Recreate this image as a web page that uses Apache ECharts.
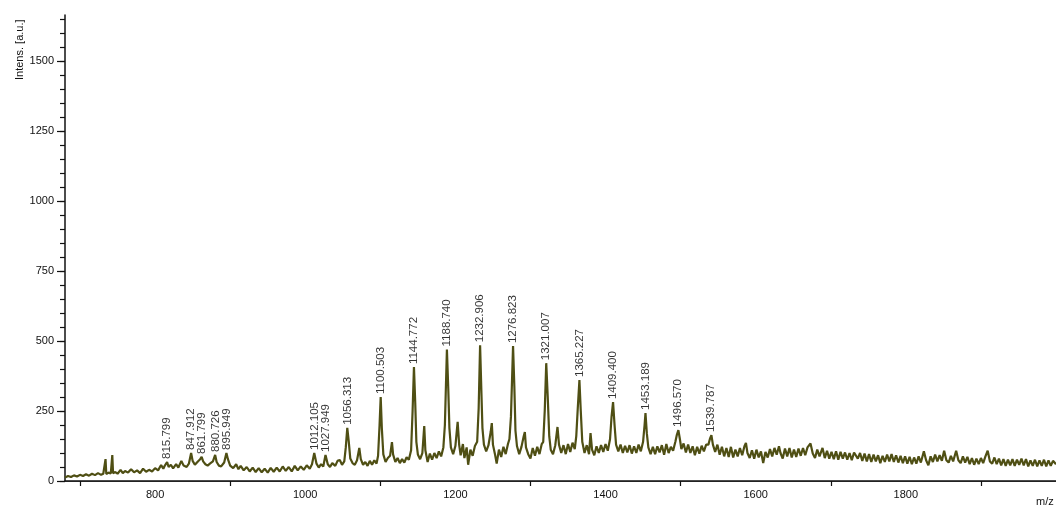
<!DOCTYPE html>
<html lang="en">

<head>
    <meta charset="UTF-8">
    <title>Mass spectrum</title>
    <script src="https://cdn.jsdelivr.net/npm/echarts@6/dist/echarts.min.js"></script>
    <style>
        body {
            margin: 0;
            background: #fff;
        }

        #root {
            width: 1056px;
            height: 507px;
        }
    </style>
</head>

<body>

    <div id="root"></div>
    <script>

        // spectrum, [m/z, intensity]
        var lowMass = [
            [680, 12], [684, 18], [688, 14], [692, 20], [696, 16], [700, 22], [704, 18], [708, 24], [712, 19],
            [716, 26], [720, 21], [724, 28], [728, 22], [731, 26], [733, 24], [734, 78], [735, 25], [738, 30],
            [741, 27], [743, 93], [744, 28], [747, 32], [750, 26], [754, 40], [757, 28], [760, 36], [764, 30],
            [768, 42], [772, 31], [776, 38], [780, 28], [784, 44], [788, 33], [792, 40], [796, 34], [800, 46],
            [804, 38], [808, 57], [811, 44], [813, 55], [816, 68], [818, 50], [821, 58], [824, 45], [828, 60],
            [831, 48], [835, 72], [838, 55], [842, 50], [845, 62], [848, 100], [850, 72], [853, 58], [857, 70],
            [860, 78], [862, 86], [864, 70], [867, 60], [870, 55], [873, 62], [877, 70], [880, 93], [882, 68],
            [885, 55], [888, 52], [892, 66], [895, 100], [897, 78], [900, 55], [904, 46], [908, 60], [911, 42],
            [914, 54], [918, 38], [922, 50], [926, 34], [930, 48], [934, 32], [938, 46], [942, 31], [946, 44],
            [950, 30], [954, 47], [958, 33], [962, 48], [966, 34], [970, 52], [974, 36], [978, 50], [982, 34],
            [986, 54], [990, 38], [994, 52], [998, 40]
        ];

        var clusterMass = [
            [1002, 56], [1006, 44], [1009, 60], [1012, 100], [1015, 62], [1018, 48], [1021, 60], [1024, 52],
            [1027, 93], [1030, 60], [1033, 50], [1036, 64], [1040, 54], [1043, 72], [1046, 75], [1049, 58],
            [1052, 70], [1054, 120], [1056, 190], [1058, 140], [1060, 80], [1063, 64], [1066, 58], [1069, 74],
            [1072, 118], [1074, 78], [1077, 58], [1080, 68], [1083, 54], [1086, 72], [1089, 58], [1092, 74],
            [1095, 62], [1097, 90], [1099, 200], [1100.5, 300], [1102, 190], [1104, 95], [1107, 68], [1110, 82],
            [1113, 90], [1115.5, 139], [1117, 95], [1120, 68], [1123, 82], [1126, 64], [1129, 78], [1132, 66],
            [1135, 85], [1138, 76], [1141, 110], [1143, 250], [1144.8, 407], [1146.5, 280], [1148, 140],
            [1150, 95], [1153, 78], [1156, 100], [1158.5, 196], [1160, 110], [1163, 68], [1166, 98], [1169, 76],
            [1172, 100], [1175, 82], [1178, 106], [1181, 88], [1184, 120], [1186, 200], [1188.7, 470],
            [1190.5, 330], [1192, 190], [1194, 120], [1197, 96], [1200, 125], [1203, 211], [1205, 130],
            [1207, 92], [1210, 132], [1212, 82], [1215, 120], [1217, 58], [1220, 112], [1223, 90], [1226, 125],
            [1229, 140], [1231, 260], [1232.9, 485], [1234.5, 330], [1236, 190], [1238, 130], [1241, 106],
            [1244, 127], [1247, 175], [1248.5, 207], [1250, 130], [1253, 92], [1255, 62], [1258, 112],
            [1261, 86], [1264, 122], [1267, 96], [1270, 132], [1272, 150], [1274, 230], [1276.8, 482],
            [1278.5, 340], [1280, 180], [1282, 125], [1285, 96], [1288, 122], [1291, 160], [1292.5, 175],
            [1294, 120], [1297, 96], [1300, 80], [1303, 118], [1306, 90], [1309, 122], [1312, 96], [1315, 132],
            [1317, 140], [1319, 250], [1321, 421], [1323, 300], [1325, 160], [1327, 112], [1330, 96],
            [1333, 127], [1336, 193], [1338, 130], [1341, 100], [1344, 128], [1347, 96], [1350, 132],
            [1353, 104], [1356, 137], [1359, 114], [1361, 160], [1363, 260], [1365.2, 361], [1367, 250],
            [1369, 140], [1372, 100], [1375, 128], [1378, 96], [1380, 171], [1382, 112], [1385, 92], [1388, 124],
            [1391, 100], [1394, 128], [1397, 104], [1400, 132], [1403, 108], [1406, 150], [1408, 230],
            [1410, 282], [1412, 200], [1414, 130], [1417, 106], [1420, 130], [1423, 100], [1426, 126],
            [1429, 102], [1432, 128], [1435, 98], [1438, 124], [1441, 100], [1444, 130], [1447, 106],
            [1450, 140], [1452, 200], [1453.2, 243], [1455, 170], [1457, 120], [1460, 96], [1463, 122],
            [1466, 96], [1469, 124], [1472, 102], [1475, 128], [1478, 94], [1481, 132], [1484, 100],
            [1487, 122], [1490, 108], [1493, 140], [1495, 165], [1497, 182], [1499, 150], [1501, 114],
            [1504, 134], [1507, 102], [1510, 130], [1513, 100], [1516, 124], [1519, 92], [1522, 122],
            [1525, 98], [1528, 126], [1531, 106], [1534, 130], [1537, 130], [1539, 150], [1541, 164],
            [1543, 130], [1546, 104], [1549, 130], [1552, 94], [1555, 122], [1558, 88]
        ];

        var tailMass = [
            [1561, 118], [1564, 86], [1567, 122], [1570, 84], [1573, 112], [1576, 88], [1579, 118], [1582, 92],
            [1585, 124], [1587, 136], [1589, 100], [1592, 82], [1595, 110], [1598, 80], [1601, 112], [1604, 84],
            [1607, 106], [1610, 64], [1613, 104], [1616, 84], [1619, 114], [1622, 88], [1625, 118], [1628, 94],
            [1631, 124], [1633, 100], [1636, 80], [1639, 116], [1642, 88], [1645, 118], [1648, 84], [1651, 112],
            [1654, 86], [1657, 116], [1660, 90], [1663, 118], [1666, 92], [1669, 120], [1673, 134], [1676, 98],
            [1679, 82], [1682, 112], [1685, 88], [1689, 118], [1692, 82], [1695, 108], [1698, 80], [1701, 104],
            [1704, 78], [1707, 106], [1710, 76], [1713, 104], [1716, 80], [1719, 102], [1722, 76], [1725, 100],
            [1728, 74], [1731, 102], [1733, 108], [1736, 80], [1739, 100], [1742, 72], [1745, 98], [1748, 70],
            [1751, 96], [1754, 68], [1757, 94], [1760, 70], [1763, 92], [1766, 64], [1769, 90], [1772, 68],
            [1775, 94], [1778, 70], [1781, 96], [1784, 68], [1787, 92], [1790, 66], [1793, 90], [1796, 64],
            [1799, 88], [1802, 62], [1805, 86], [1808, 60], [1811, 84], [1814, 62], [1817, 88], [1820, 66],
            [1824, 106], [1827, 74], [1830, 56], [1833, 88], [1836, 68], [1839, 94], [1842, 70], [1845, 92],
            [1848, 72], [1851, 108], [1854, 74], [1857, 66], [1860, 90], [1863, 70], [1867, 108], [1870, 74],
            [1873, 64], [1876, 88], [1879, 66], [1882, 86], [1885, 60], [1888, 82], [1891, 58], [1894, 80],
            [1897, 60], [1900, 82], [1903, 64], [1906, 88], [1909, 108], [1912, 70], [1915, 62], [1918, 84],
            [1921, 60], [1924, 80], [1927, 56], [1930, 78], [1933, 54], [1936, 76], [1939, 56], [1942, 78],
            [1945, 54], [1948, 76], [1951, 58], [1954, 80], [1957, 56], [1960, 78], [1963, 52], [1966, 74],
            [1969, 54], [1972, 76], [1975, 52], [1978, 74], [1981, 54], [1984, 76], [1987, 52], [1990, 74],
            [1993, 54], [1996, 72], [2000, 60]
        ];

        // annotated peaks
        var peakMz = [815.799, 847.912, 861.799, 880.726, 895.949, 1012.105, 1027.949, 1056.313, 1100.503,
            1144.772, 1188.740, 1232.906, 1276.823, 1321.007, 1365.227, 1409.400, 1453.189, 1496.570, 1539.787];
        var peakTop = [68, 100, 86, 93, 100, 100, 93, 190, 300, 407, 470, 485, 482, 421, 361, 282, 243, 182, 164];

        // axis ticks / labels
        var xLabelValues = [800, 1000, 1200, 1400, 1600, 1800];
        var xTickValues = [700, 900, 1100, 1300, 1500, 1700, 1900];
        var yLabelValues = [0, 250, 500, 750, 1000, 1250, 1500];
        var yMinorValues = [];
        for (var v = 0; v <= 1650; v += 50) yMinorValues.push(v);

        var font = "'Liberation Sans', Arial, sans-serif";
        var spectrum = lowMass.concat(clusterMass, tailMass);
        var plain = function (val) { return String(val); };

        var mychart = echarts.init(document.getElementById("root"));

        mychart.setOption({
            animation: false,
            grid: {
                left: 65,
                right: 0,
                top: 15,
                bottom: 26
            },
            xAxis: [{
                type: 'value',
                min: 680,
                max: 2000,
                axisLine: { lineStyle: { color: '#111', width: 1.5 } },
                axisTick: { length: 5, customValues: xTickValues, lineStyle: { color: '#111', width: 1.2 } },
                axisLabel: {
                    customValues: xLabelValues, margin: 8, fontSize: 11, color: '#111',
                    fontFamily: font, formatter: plain
                },
                splitLine: { show: false }
            }, {
                // top frame line
                type: 'value',
                position: 'top',
                min: 680,
                max: 2000,
                axisLine: { show: true, lineStyle: { color: '#222', width: 1.2 } },
                axisTick: { show: false },
                axisLabel: { show: false },
                splitLine: { show: false }
            }],
            yAxis: [{
                type: 'value',
                min: 0,
                max: 1665,
                axisLine: { show: true, lineStyle: { color: '#111', width: 1.5 } },
                axisTick: { show: true, length: 8, customValues: yLabelValues, lineStyle: { color: '#111', width: 1.2 } },
                axisLabel: {
                    customValues: yLabelValues, margin: 11, fontSize: 11, color: '#111',
                    fontFamily: font, formatter: plain
                },
                splitLine: { show: false }
            }, {
                // minor ticks every 50
                type: 'value',
                position: 'left',
                min: 0,
                max: 1665,
                axisLine: { show: false },
                axisTick: { show: true, length: 5, customValues: yMinorValues, lineStyle: { color: '#111', width: 1.2 } },
                axisLabel: { show: false },
                splitLine: { show: false }
            }],
            graphic: [{
                type: 'text',
                x: 20,
                y: 80,
                rotation: Math.PI / 2,
                style: {
                    text: 'Intens. [a.u.]',
                    fontSize: 11,
                    fontFamily: font,
                    fill: '#111',
                    align: 'left',
                    verticalAlign: 'middle'
                }
            }, {
                type: 'text',
                x: 1036,
                y: 502,
                style: {
                    text: 'm/z',
                    fontSize: 11,
                    fontFamily: font,
                    fill: '#111',
                    align: 'left',
                    verticalAlign: 'middle'
                }
            }],
            series: [{
                type: 'line',
                data: spectrum,
                showSymbol: false,
                silent: true,
                lineStyle: { color: '#4f4f14', width: 2.2 }
            }, {
                type: 'scatter',
                silent: true,
                symbolSize: 0,
                itemStyle: { color: 'transparent' },
                data: peakMz.map(function (m, i) { return [m, peakTop[i]]; }),
                label: {
                    show: true,
                    position: 'top',
                    distance: 3,
                    rotate: 90,
                    align: 'left',
                    verticalAlign: 'middle',
                    fontSize: 11.5,
                    fontFamily: font,
                    color: '#000',
                    formatter: function (p) { return p.value[0].toFixed(3); }
                }
            }]
        });

    </script>

</body>

</html>
